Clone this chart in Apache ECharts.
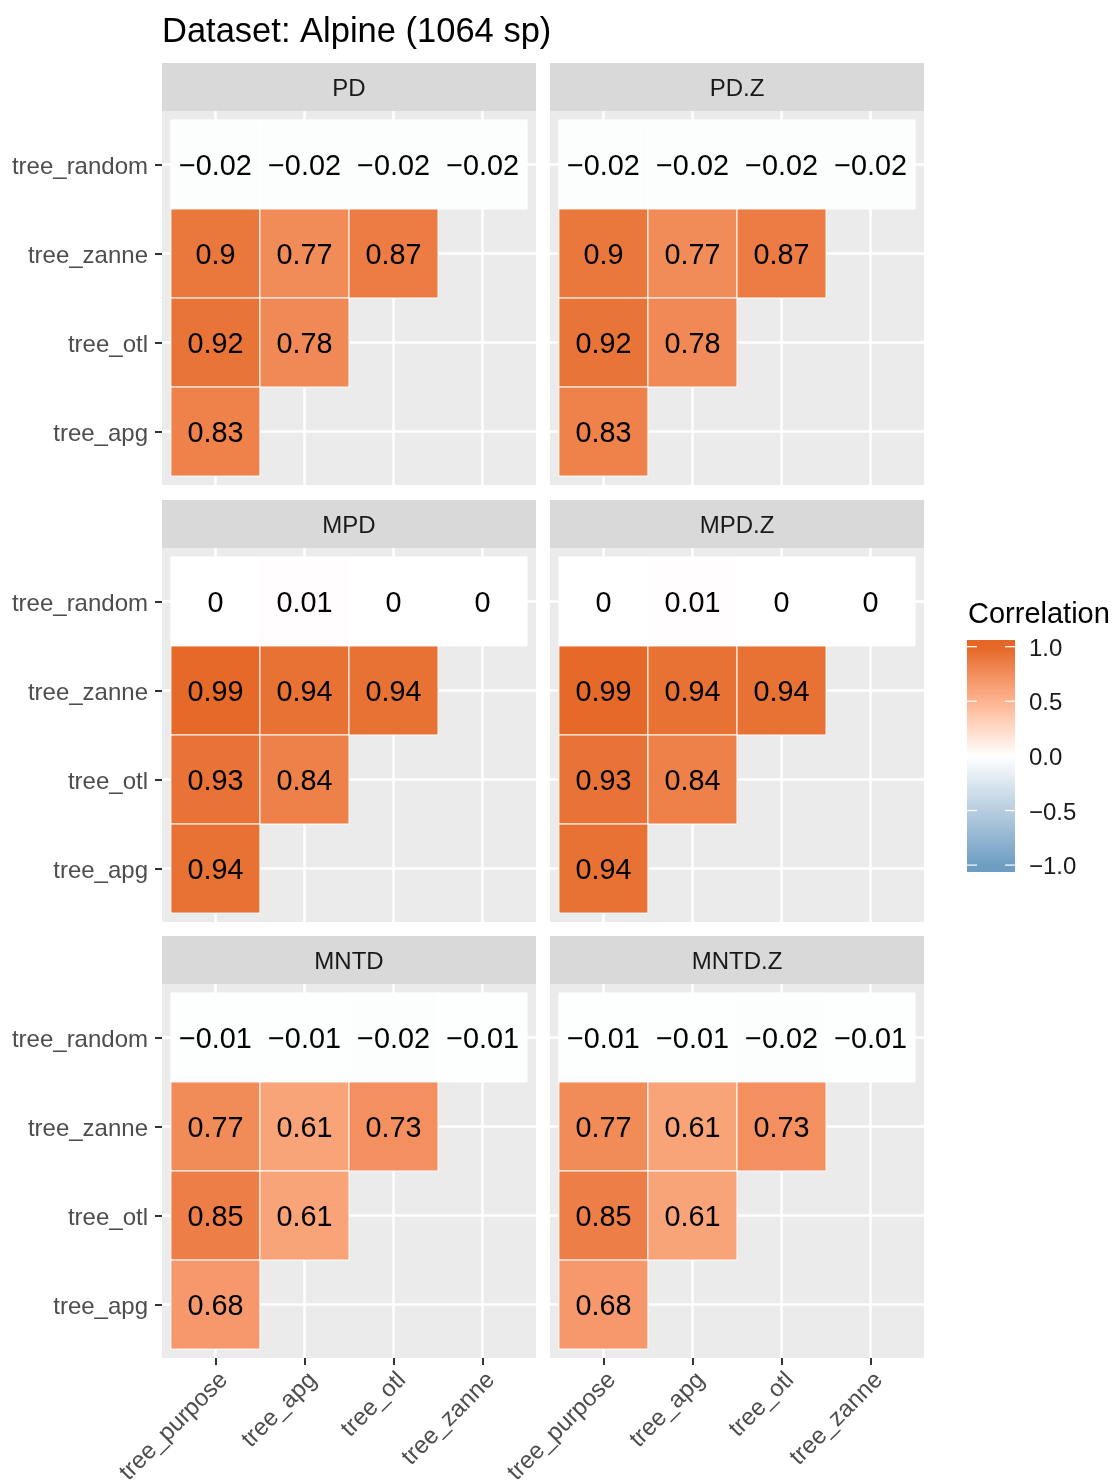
<!DOCTYPE html>
<html>
<head>
<meta charset="utf-8">
<script src="https://cdn.jsdelivr.net/npm/echarts@6/dist/echarts.min.js"></script>
<style>
  html, body { margin: 0; padding: 0; background: #ffffff; }
  #chart { width: 1114px; height: 1481px; }
</style>
</head>
<body>
<div id="chart"></div>
<script>
// ---- data -------------------------------------------------------------
const chartTitle = 'Dataset: Alpine (1064 sp)';
const xCats = ['tree_purpose', 'tree_apg', 'tree_otl', 'tree_zanne'];
const yCats = ['tree_apg', 'tree_otl', 'tree_zanne', 'tree_random']; // bottom to top
const panelNames = ['PD', 'PD.Z', 'MPD', 'MPD.Z', 'MNTD', 'MNTD.Z'];

// lower-triangle correlations, rows from tree_random (top) down to tree_apg,
// columns in xCats order
const corrPD    = [[-0.02, -0.02, -0.02, -0.02], [0.90, 0.77, 0.87], [0.92, 0.78], [0.83]];
const corrPDZ   = [[-0.02, -0.02, -0.02, -0.02], [0.90, 0.77, 0.87], [0.92, 0.78], [0.83]];
const corrMPD   = [[0, 0.01, 0, 0], [0.99, 0.94, 0.94], [0.93, 0.84], [0.94]];
const corrMPDZ  = [[0, 0.01, 0, 0], [0.99, 0.94, 0.94], [0.93, 0.84], [0.94]];
const corrMNTD  = [[-0.01, -0.01, -0.02, -0.01], [0.77, 0.61, 0.73], [0.85, 0.61], [0.68]];
const corrMNTDZ = [[-0.01, -0.01, -0.02, -0.01], [0.77, 0.61, 0.73], [0.85, 0.61], [0.68]];
const panelValues = [corrPD, corrPDZ, corrMPD, corrMPDZ, corrMNTD, corrMNTDZ];

const legendTitle = 'Correlation';
const legendBreaks = [1.0, 0.5, 0.0, -0.5, -1.0];
const legendLabels = ['1.0', '0.5', '0.0', '\u22120.5', '\u22121.0'];

// ---- colour scale: low / mid / high interpolated in CIELAB -------------
const lowCol = '#6D9EC1', midCol = '#FFFFFF', highCol = '#E46726';

function hexToRgb(h) {
  return [1, 3, 5].map(i => parseInt(h.slice(i, i + 2), 16) / 255);
}
function toLab(rgb) {
  const lin = rgb.map(c => c <= 0.04045 ? c / 12.92 : Math.pow((c + 0.055) / 1.055, 2.4));
  const X = (0.4124564 * lin[0] + 0.3575761 * lin[1] + 0.1804375 * lin[2]) / 0.95047;
  const Y = (0.2126729 * lin[0] + 0.7151522 * lin[1] + 0.0721750 * lin[2]);
  const Z = (0.0193339 * lin[0] + 0.1191920 * lin[1] + 0.9503041 * lin[2]) / 1.08883;
  const d = 6 / 29;
  const f = t => t > d * d * d ? Math.cbrt(t) : t / (3 * d * d) + 4 / 29;
  return [116 * f(Y) - 16, 500 * (f(X) - f(Y)), 200 * (f(Y) - f(Z))];
}
function fromLab(lab) {
  const d = 6 / 29;
  const fi = t => t > d ? t * t * t : 3 * d * d * (t - 4 / 29);
  const fy = (lab[0] + 16) / 116, fx = fy + lab[1] / 500, fz = fy - lab[2] / 200;
  const X = fi(fx) * 0.95047, Y = fi(fy), Z = fi(fz) * 1.08883;
  const lin = [
     3.2404542 * X - 1.5371385 * Y - 0.4985314 * Z,
    -0.9692660 * X + 1.8760108 * Y + 0.0415560 * Z,
     0.0556434 * X - 0.2040259 * Y + 1.0572252 * Z
  ];
  const s = lin.map(c => {
    c = Math.min(1, Math.max(0, c));
    return c <= 0.0031308 ? 12.92 * c : 1.055 * Math.pow(c, 1 / 2.4) - 0.055;
  });
  return 'rgb(' + s.map(c => Math.round(c * 255)).join(',') + ')';
}
const labLow = toLab(hexToRgb(lowCol)), labMid = toLab(hexToRgb(midCol)), labHigh = toLab(hexToRgb(highCol));
function corrColor(v) {
  v = Math.max(-1, Math.min(1, v));
  const to = v < 0 ? labLow : labHigh;
  const t = Math.abs(v);
  return fromLab([0, 1, 2].map(i => labMid[i] + (to[i] - labMid[i]) * t));
}
const rampSteps = 80;
const rampColors = [];
for (let i = 0; i <= rampSteps; i++) rampColors.push(corrColor(-1 + 2 * i / rampSteps));

// ---- layout -------------------------------------------------------------
const FONT = '"Liberation Sans", Arial, sans-serif';
const colLeft = [162, 550];
const rowTop = [111, 548, 984];
const PANEL = 374;
const STRIP = 48;
const TXT_DY = 2.5; // optical centring nudge for middle-aligned text

const fmt = v => String(v).replace('-', '\u2212');

function renderCell(params, api) {
  const x = api.value(0), y = api.value(1), v = api.value(2);
  const a = api.coord([x - 0.5, y + 0.5]);
  const b = api.coord([x + 0.5, y - 0.5]);
  return {
    type: 'group',
    children: [
      {
        type: 'rect',
        shape: { x: a[0], y: a[1], width: b[0] - a[0], height: b[1] - a[1] },
        style: { fill: api.visual('color'), stroke: '#ffffff', lineWidth: 1 }
      },
      {
        type: 'text',
        style: {
          text: fmt(v), x: (a[0] + b[0]) / 2, y: (a[1] + b[1]) / 2 + TXT_DY,
          align: 'center', verticalAlign: 'middle',
          fontSize: 28.8, fontFamily: FONT, fill: '#000000'
        }
      }
    ]
  };
}

const grids = [], xAxes = [], yAxes = [], series = [], graphics = [];

panelNames.forEach((name, i) => {
  const col = i % 2, row = Math.floor(i / 2);
  const left = colLeft[col], top = rowTop[row];
  grids.push({
    left: left, top: top, width: PANEL, height: PANEL,
    outerBoundsMode: 'none', containLabel: false,
    show: true, backgroundColor: '#EBEBEB', borderWidth: 0
  });
  const showX = row === 2, showY = col === 0;
  xAxes.push({
    type: 'value', gridIndex: i, min: -0.6, max: 3.6, position: 'bottom',
    axisLine: { show: false, onZero: false },
    axisTick: { show: showX, customValues: [0, 1, 2, 3], length: 7, lineStyle: { color: '#333333', width: 2 } },
    axisLabel: {
      show: showX, customValues: [0, 1, 2, 3], rotate: 45, margin: 10,
      verticalAlign: 'top',
      formatter: v => xCats[Math.round(v)],
      fontSize: 24, fontFamily: FONT, color: '#4D4D4D'
    },
    splitLine: { show: true, lineStyle: { color: '#FFFFFF', width: 2.5 } }
  });
  yAxes.push({
    type: 'value', gridIndex: i, min: -0.6, max: 3.6, position: 'left',
    axisLine: { show: false, onZero: false },
    axisTick: { show: showY, customValues: [0, 1, 2, 3], length: 7, lineStyle: { color: '#333333', width: 2 } },
    axisLabel: {
      show: showY, customValues: [0, 1, 2, 3], margin: 14,
      formatter: v => '{t|' + yCats[Math.round(v)] + '}',
      rich: { t: { fontSize: 24, fontFamily: FONT, color: '#4D4D4D', padding: [5, 0, 0, 0] } }
    },
    splitLine: { show: true, lineStyle: { color: '#FFFFFF', width: 2.5 } }
  });
  const data = [];
  panelValues[i].forEach((rowVals, r) => {
    rowVals.forEach((v, c) => data.push([c, 3 - r, v]));
  });
  series.push({
    type: 'custom', name: name, xAxisIndex: i, yAxisIndex: i,
    renderItem: renderCell, data: data,
    encode: { x: 0, y: 1 }
  });
  // facet strip
  graphics.push({
    type: 'rect', left: left, top: top - STRIP,
    shape: { width: PANEL, height: STRIP }, style: { fill: '#D9D9D9' }
  });
  graphics.push({
    type: 'text', x: left + PANEL / 2, y: top - STRIP / 2 + TXT_DY,
    style: { text: name, align: 'center', verticalAlign: 'middle', fontSize: 24, fontFamily: FONT, fill: '#1A1A1A' }
  });
});

// colour bar legend
const barX = 967, barW = 48, barTop = 640, barH = 232;
const yOf = v => 755.9 - v * 109.2;
const stops = [];
for (let i = 0; i <= 60; i++) {
  const off = i / 60;
  const y = barTop + off * barH;
  const v = 1 - (y - yOf(1)) / 109.2;
  stops.push({ offset: off, color: corrColor(v) });
}
graphics.push({
  type: 'rect', left: barX, top: barTop,
  shape: { width: barW, height: barH },
  style: { fill: { type: 'linear', x: 0, y: 0, x2: 0, y2: 1, colorStops: stops } }
});
legendBreaks.forEach((b, k) => {
  const y = yOf(b);
  graphics.push({ type: 'line', shape: { x1: barX, y1: y, x2: barX + 10, y2: y }, style: { stroke: '#FFFFFF', lineWidth: 1.2 } });
  graphics.push({ type: 'line', shape: { x1: barX + barW - 10, y1: y, x2: barX + barW, y2: y }, style: { stroke: '#FFFFFF', lineWidth: 1.2 } });
  graphics.push({
    type: 'text', x: 1029, y: y + TXT_DY,
    style: { text: legendLabels[k], align: 'left', verticalAlign: 'middle', fontSize: 24, fontFamily: FONT, fill: '#1A1A1A' }
  });
});
graphics.push({
  type: 'text', x: 968, y: 615,
  style: { text: legendTitle, align: 'left', verticalAlign: 'middle', fontSize: 29, fontFamily: FONT, fill: '#000000' }
});

const chart = echarts.init(document.getElementById('chart'), null, { renderer: 'canvas' });
chart.setOption({
  backgroundColor: '#FFFFFF',
  animation: false,
  title: {
    text: chartTitle, left: 157, top: 10,
    textStyle: { fontSize: 34.5, fontWeight: 'normal', fontFamily: FONT, color: '#000000' }
  },
  grid: grids,
  xAxis: xAxes,
  yAxis: yAxes,
  visualMap: {
    type: 'continuous', show: false, min: -1, max: 1, dimension: 2,
    seriesIndex: [0, 1, 2, 3, 4, 5],
    inRange: { color: rampColors }
  },
  series: series,
  graphic: graphics
});
</script>
</body>
</html>
